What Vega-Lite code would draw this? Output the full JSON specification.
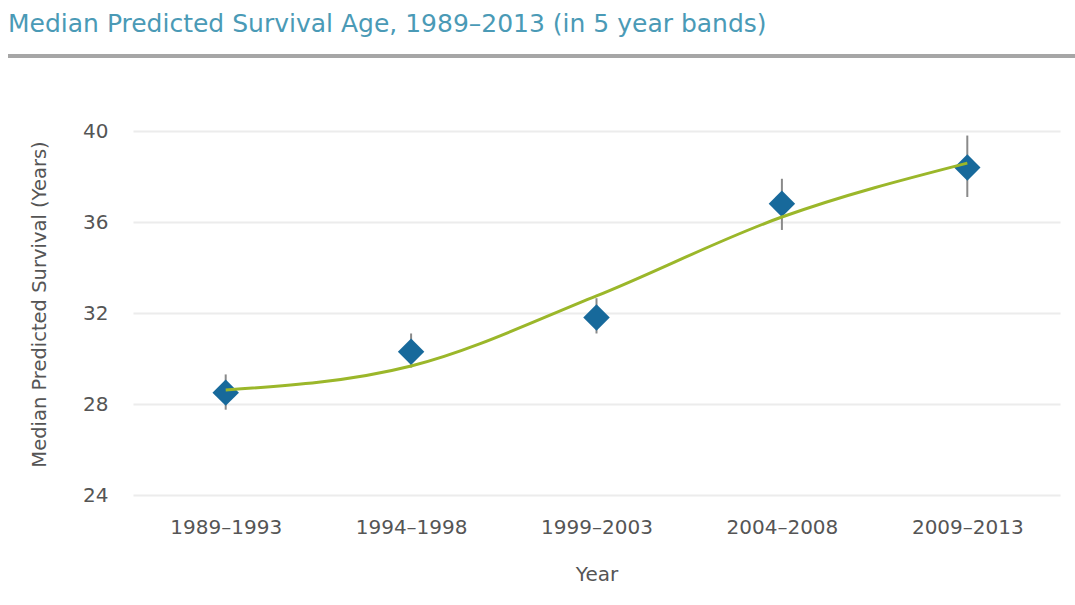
{
  "$schema": "https://vega.github.io/schema/vega-lite/v6.json",
  "background": "white",
  "padding": {"left": 8, "top": 12, "right": 0, "bottom": 0},
  "title": {
    "text": "Median Predicted Survival Age, 1989–2013 (in 5 year bands)",
    "anchor": "start",
    "font": "DejaVu Sans",
    "fontSize": 25,
    "fontWeight": "normal",
    "color": "#4a9ab6",
    "offset": 16
  },
  "spacing": 62,
  "config": {"view": {"stroke": null}, "font": "DejaVu Sans"},
  "vconcat": [
    {
      "width": 1067,
      "height": 4,
      "view": {"fill": "#a6a6a6", "stroke": null},
      "data": {"values": [{"k": 1}]},
      "mark": {"type": "point", "opacity": 0}
    },
    {
      "width": 1052,
      "height": 364,
      "data": {
        "values": [
          {"band": "1989–1993", "median": 28.5, "lo": 27.75, "hi": 29.3, "fit": 28.62},
          {"band": "1994–1998", "median": 30.3, "lo": 29.6, "hi": 31.1, "fit": 29.67},
          {"band": "1999–2003", "median": 31.8, "lo": 31.1, "hi": 32.65, "fit": 32.75},
          {"band": "2004–2008", "median": 36.8, "lo": 35.65, "hi": 37.9, "fit": 36.22},
          {"band": "2009–2013", "median": 38.4, "lo": 37.1, "hi": 39.8, "fit": 38.59}
        ]
      },
      "encoding": {
        "x": {
          "field": "band",
          "type": "ordinal",
          "sort": null,
          "scale": {"type": "point", "padding": 0.5, "range": [125, 1052]},
          "axis": {
            "title": "Year",
            "labelAngle": 0,
            "ticks": false,
            "domain": false,
            "grid": false,
            "labelPadding": 22,
            "labelFontSize": 20,
            "labelColor": "#555555",
            "titleFontSize": 20,
            "titleColor": "#555555",
            "titleFontWeight": "normal",
            "titlePadding": 27
          }
        }
      },
      "layer": [
        {
          "mark": {"type": "rule", "color": "#8a8a8a", "strokeWidth": 2},
          "encoding": {
            "y": {
              "field": "lo",
              "type": "quantitative",
              "title": "Median Predicted Survival (Years)",
              "scale": {"domain": [24, 40], "nice": false, "zero": false},
              "axis": {
                "values": [24, 28, 32, 36, 40],
                "offset": -125,
                "ticks": false,
                "domain": false,
                "labelPadding": 25,
                "labelFontSize": 20,
                "labelColor": "#555555",
                "gridColor": "#ececec",
                "gridWidth": 2,
                "titleFontSize": 19.5,
                "titleColor": "#555555",
                "titleFontWeight": "normal",
                "titlePadding": 33,
                "titleY": 173
              }
            },
            "y2": {"field": "hi"}
          }
        },
        {
          "mark": {"type": "point", "shape": "diamond", "filled": true, "color": "#17699b", "opacity": 1, "size": 700},
          "encoding": {
            "y": {"field": "median", "type": "quantitative", "title": "Median Predicted Survival (Years)"}
          }
        },
        {
          "mark": {"type": "line", "color": "#9bb72a", "strokeWidth": 3, "interpolate": "monotone"},
          "encoding": {
            "y": {"field": "fit", "type": "quantitative", "title": "Median Predicted Survival (Years)"}
          }
        }
      ]
    }
  ]
}
